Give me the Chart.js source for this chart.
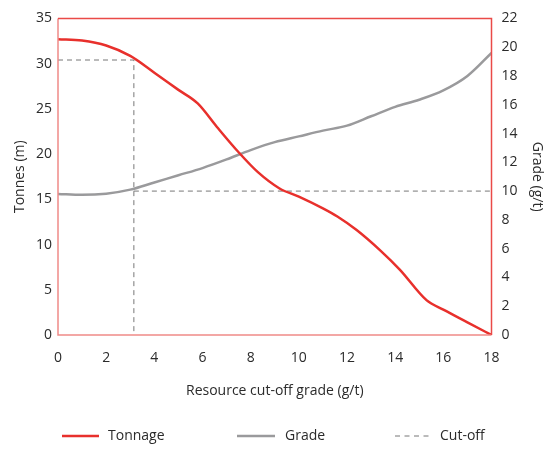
<!DOCTYPE html>
<html>
<head>
<meta charset="utf-8">
<script src="https://cdn.jsdelivr.net/npm/chart.js@4"></script>
<style>
html,body{margin:0;padding:0;background:#fff;}
#wrap{width:548px;height:449px;position:relative;}
</style>
</head>
<body>
<div id="wrap"><canvas id="c" width="548" height="449"></canvas></div>
<script>
// Data
const tonnageX = [0,1,2,3,4,5,5.8,6.6,7.5,8.3,9.2,10,11,11.6,12.4,13.4,14.2,15.3,16,17,18];
const tonnage  = [32.7,32.55,32.0,30.85,29.0,27.1,25.6,23.0,20.2,18.0,16.2,15.3,14.0,13.1,11.6,9.3,7.2,3.85,2.8,1.4,0];
const gradeX = [0,1,2,3,4,5,6,7,8,9,10,11,12,13,14,15,16,17,18];
const grade  = [9.8,9.74,9.82,10.1,10.6,11.1,11.6,12.2,12.85,13.4,13.8,14.2,14.55,15.2,15.85,16.35,17.0,18.0,19.6];
const cutoffX = [0, 3.15, 3.15];
const cutoffTonnes = [30.4, 30.4, 0];
const cutoffGradeX = [3.15, 18];
const cutoffGradeY = [10, 10];
const xTicks = [0,2,4,6,8,10,12,14,16,18];
const leftTicks = [0,5,10,15,20,25,30,35];
const rightTicks = [0,2,4,6,8,10,12,14,16,18,20,22];
const legendLabels = ['Tonnage','Grade','Cut-off'];

const RED = '#e8302c';
const GREY = '#9a9a9c';
const DASH = '#777777';
const FONT = '"Open Sans", "Noto Sans", sans-serif';
const TXT = '#2b2b2b';

const pts = (xs, ys) => xs.map((x, i) => ({x: x, y: ys[i]}));

const framePlugin = {
  id: 'frame',
  afterDatasetsDraw(chart) {
    const {ctx, chartArea: a} = chart;
    ctx.save();
    ctx.lineWidth = 1.5;
    ctx.strokeStyle = '#f08a88';
    ctx.beginPath();
    ctx.moveTo(a.left, a.top); ctx.lineTo(a.left, a.bottom); ctx.lineTo(a.right, a.bottom);
    ctx.stroke();
    ctx.strokeStyle = '#ea4a47';
    ctx.beginPath();
    ctx.moveTo(a.left, a.top); ctx.lineTo(a.right, a.top); ctx.lineTo(a.right, a.bottom);
    ctx.stroke();
    ctx.restore();
  },
  afterDraw(chart) {
    const ctx = chart.ctx;
    const y = 436;
    const items = [
      {x1: 62, x2: 99, tx: 108, color: RED, dash: [], w: 2.5},
      {x1: 237, x2: 275, tx: 285, color: GREY, dash: [], w: 2.5},
      {x1: 395, x2: 433, tx: 440, color: DASH, dash: [5, 4.5], w: 1}
    ];
    ctx.save();
    items.forEach((it, i) => {
      ctx.beginPath();
      ctx.setLineDash(it.dash);
      ctx.strokeStyle = it.color;
      ctx.lineWidth = it.w;
      ctx.moveTo(it.x1, y);
      ctx.lineTo(it.x2, y);
      ctx.stroke();
      ctx.setLineDash([]);
      ctx.fillStyle = TXT;
      ctx.font = '14px ' + FONT;
      ctx.textBaseline = 'middle';
      ctx.textAlign = 'left';
      ctx.fillText(legendLabels[i], it.tx, y);
    });
    ctx.restore();
  }
};

new Chart(document.getElementById('c'), {
  type: 'line',
  data: {
    datasets: [
      {label: 'Tonnage', data: pts(tonnageX, tonnage), yAxisID: 'y', borderColor: RED, borderWidth: 2.5,
       pointRadius: 0, cubicInterpolationMode: 'monotone', fill: false},
      {label: 'Grade', data: pts(gradeX, grade), yAxisID: 'y1', borderColor: GREY, borderWidth: 2.5,
       pointRadius: 0, cubicInterpolationMode: 'monotone', fill: false},
      {label: 'Cut-off', data: pts(cutoffX, cutoffTonnes), yAxisID: 'y', borderColor: DASH, borderWidth: 1,
       borderDash: [5, 4], pointRadius: 0, tension: 0, fill: false},
      {label: 'Cut-off grade', data: pts(cutoffGradeX, cutoffGradeY), yAxisID: 'y1', borderColor: DASH, borderWidth: 1,
       borderDash: [5, 4], pointRadius: 0, tension: 0, fill: false}
    ]
  },
  options: {
    responsive: false,
    animation: false,
    layout: {padding: {top: 15, left: 0, right: 0, bottom: 0}},
    plugins: {legend: {display: false}, tooltip: {enabled: false}},
    scales: {
      x: {
        type: 'linear', min: 0, max: 18,
        afterBuildTicks: s => { s.ticks = xTicks.map(v => ({value: v})); },
        afterFit: s => { s.height = 114; },
        grid: {display: false, drawTicks: false},
        border: {display: false},
        ticks: {padding: 15, color: TXT, font: {family: FONT, size: 14}, maxRotation: 0},
        title: {display: true, text: 'Resource cut-off grade (g/t)', color: TXT,
                font: {family: FONT, size: 14}, padding: {top: 0, bottom: 50}}
      },
      y: {
        type: 'linear', position: 'left', min: 0, max: 35,
        afterBuildTicks: s => { s.ticks = leftTicks.map(v => ({value: v})); },
        afterFit: s => { s.width = 58; },
        grid: {display: false, drawTicks: false},
        border: {display: false},
        ticks: {padding: 6, color: TXT, font: {family: FONT, size: 14}},
        title: {display: true, text: 'Tonnes (m)', color: TXT,
                font: {family: FONT, size: 14}, padding: {top: 12, bottom: 0}}
      },
      y1: {
        type: 'linear', position: 'right', min: 0, max: 22,
        afterBuildTicks: s => { s.ticks = rightTicks.map(v => ({value: v})); },
        afterFit: s => { s.width = 56.5; },
        grid: {display: false, drawTicks: false},
        border: {display: false},
        ticks: {padding: 10, color: TXT, font: {family: FONT, size: 14}},
        title: {display: true, text: 'Grade (g/t)', color: TXT,
                font: {family: FONT, size: 14}, padding: {top: 3, bottom: 0}}
      }
    }
  },
  plugins: [framePlugin]
});
</script>
</body>
</html>
